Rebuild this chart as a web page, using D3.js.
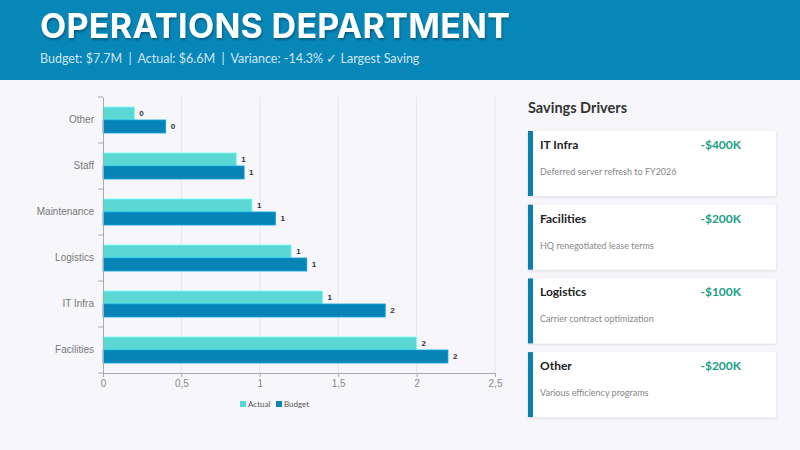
<!DOCTYPE html>
<html>
<head>
<meta charset="utf-8">
<script src="https://cdn.jsdelivr.net/npm/d3@7"></script>
<style>
	html, body { margin: 0; padding: 0; background: #f7f7fb; }
	svg { display: block; }
</style>
</head>
<body>
<svg id="chart" width="800" height="450"></svg>
<script>
// chart values
const categories = ["Facilities", "IT Infra", "Logistics", "Maintenance", "Staff", "Other"];
const actualValues = [2.0, 1.4, 1.2, 0.95, 0.85, 0.2];
const budgetValues = [2.2, 1.8, 1.3, 1.1, 0.9, 0.4];
const seriesNames = ["Actual", "Budget"];
const xTicks = [0, 0.5, 1, 1.5, 2, 2.5];

// savings drivers panel
const driverNames = ["IT Infra", "Facilities", "Logistics", "Other"];
const driverAmounts = ["-$400K", "-$200K", "-$100K", "-$200K"];
const driverNotes = ["Deferred server refresh to FY2026", "HQ renegotiated lease terms",
	"Carrier contract optimization", "Various efficiency programs"];

const title = "OPERATIONS DEPARTMENT";
const subtitle = "Budget: $7.7M  |  Actual: $6.6M  |  Variance: -14.3% \u2713 Largest Saving";

var colors = { Actual: "#5bd8d3", Budget: "#0784b5" };
var svg = d3.select("#chart");
var W = +svg.attr("width");

svg.append("rect").attr("width", W).attr("height", 450).attr("fill", "#f7f7fb");

// --------------------------------------------
// shadows
// --------------------------------------------
var defs = svg.append("defs");
var ts = defs.append("filter").attr("id", "tshadow")
	.attr("x", "-5%").attr("y", "-20%").attr("width", "110%").attr("height", "150%");
ts.append("feDropShadow").attr("dx", 1).attr("dy", 2).attr("stdDeviation", 1)
	.attr("flood-color", "#000").attr("flood-opacity", 0.3);
var cs = defs.append("filter").attr("id", "cshadow")
	.attr("x", "-5%").attr("y", "-10%").attr("width", "110%").attr("height", "130%");
cs.append("feDropShadow").attr("dx", 0).attr("dy", 1).attr("stdDeviation", 1.5)
	.attr("flood-color", "#000").attr("flood-opacity", 0.12);

// --------------------------------------------
// header
// --------------------------------------------
svg.append("rect").attr("width", W).attr("height", 80).attr("fill", "#0786b8");
svg.append("text")
	.attr("x", 40).attr("y", 38)
	.attr("fill", "#fff")
	.attr("filter", "url(#tshadow)")
	.style("font-family", "Inter, 'Open Sans', sans-serif")
	.style("font-weight", 700)
	.style("font-size", "34px")
	.style("letter-spacing", "0.3px")
	.text(title);
svg.append("text")
	.attr("x", 40).attr("y", 63)
	.attr("fill", "#cfe7f4")
	.attr("xml:space", "preserve")
	.style("white-space", "pre")
	.style("font-family", "Lato, sans-serif")
	.style("font-size", "12.5px")
	.text(subtitle);

// --------------------------------------------
// bar chart
// --------------------------------------------
var x = d3.scaleLinear().domain([0, 2.5]).range([103, 495]);
var y = d3.scaleBand().domain(categories.slice().reverse()).range([97, 373]);
var ySub = d3.scaleBand().domain(seriesNames).range([0, y.bandwidth()]).paddingOuter(0.77);

var plot = svg.append("g");

// vertical grid
plot.append("g").selectAll("line")
	.data(xTicks.slice(1))
	.join("line")
	.attr("x1", d => x(d)).attr("x2", d => x(d))
	.attr("y1", y.range()[0]).attr("y2", y.range()[1])
	.attr("stroke", "#e4e4ea").attr("stroke-width", 1);

var rows = categories.map((c, i) => ({ cat: c, Actual: actualValues[i], Budget: budgetValues[i] }));

var groups = plot.append("g").selectAll("g")
	.data(rows)
	.join("g")
	.attr("transform", d => "translate(0," + y(d.cat) + ")");

groups.selectAll("rect")
	.data(d => seriesNames.map(s => ({ key: s, value: d[s] })))
	.join("rect")
	.attr("x", x(0))
	.attr("y", d => ySub(d.key))
	.attr("width", d => x(d.value) - x(0))
	.attr("height", ySub.bandwidth())
	.attr("fill", d => colors[d.key])
	.attr("stroke", d => d3.color(colors[d.key]).brighter(0.6))
	.attr("stroke-width", 0.8);

groups.selectAll("text")
	.data(d => seriesNames.map(s => ({ key: s, value: d[s] })))
	.join("text")
	.attr("x", d => x(d.value) + 5)
	.attr("y", d => ySub(d.key) + ySub.bandwidth() / 2)
	.attr("dy", "0.35em")
	.attr("fill", "#333")
	.style("font-family", "'Liberation Sans', Arial, sans-serif")
	.style("font-size", "8px")
	.style("font-weight", 700)
	.text(d => Math.round(d.value));

// x axis
var xAxis = plot.append("g")
	.attr("transform", "translate(0," + y.range()[1] + ")")
	.call(d3.axisBottom(x).tickValues(xTicks).tickSize(4).tickFormat(d => String(d).replace(".", ",")));
xAxis.select(".domain").attr("stroke", "#aaa");
xAxis.selectAll(".tick line").attr("stroke", "#aaa");
xAxis.selectAll(".tick text")
	.attr("fill", "#888")
	.attr("y", 7)
	.style("font-family", "'Liberation Sans', Arial, sans-serif")
	.style("font-size", "10px");

// y axis: labels at band centres, ticks at band edges
var yAxis = plot.append("g")
	.attr("transform", "translate(" + x(0) + ",0)")
	.call(d3.axisLeft(y).tickSize(0).tickPadding(9));
yAxis.select(".domain").attr("stroke", "#aaa");
yAxis.selectAll(".tick text")
	.attr("fill", "#777")
	.style("font-family", "'Liberation Sans', Arial, sans-serif")
	.style("font-size", "10px");
yAxis.append("g").selectAll("line")
	.data(y.domain().map(c => y(c)).concat([y.range()[1]]))
	.join("line")
	.attr("x1", -5).attr("x2", 0)
	.attr("y1", d => d).attr("y2", d => d)
	.attr("stroke", "#aaa");

// legend
var legend = svg.append("g").attr("transform", "translate(240,401)");
var legendX = d3.scaleOrdinal().domain(seriesNames).range([0, 36]);
var li = legend.selectAll("g")
	.data(seriesNames)
	.join("g")
	.attr("transform", d => "translate(" + legendX(d) + ",0)");
li.append("rect").attr("width", 6).attr("height", 6).attr("fill", d => colors[d]);
li.append("text")
	.attr("x", 8).attr("y", 6)
	.attr("fill", "#555")
	.style("font-family", "Lato, sans-serif")
	.style("font-size", "8px")
	.text(d => d);

// --------------------------------------------
// savings drivers
// --------------------------------------------
svg.append("text")
	.attr("x", 528).attr("y", 113)
	.attr("fill", "#333")
	.style("font-family", "Lato, sans-serif")
	.style("font-weight", 700)
	.style("font-size", "14.5px")
	.text("Savings Drivers");

var cardY = d3.scaleBand().domain(driverNames).range([131, 417.1]).paddingInner(0.118).paddingOuter(0);

var cards = svg.append("g").selectAll("g")
	.data(driverNames.map((n, i) => ({ name: n, amount: driverAmounts[i], note: driverNotes[i] })))
	.join("g")
	.attr("transform", d => "translate(528," + cardY(d.name) + ")");

cards.append("rect")
	.attr("width", 248).attr("height", cardY.bandwidth())
	.attr("fill", "#fff")
	.attr("filter", "url(#cshadow)");
cards.append("rect")
	.attr("width", 5).attr("height", cardY.bandwidth())
	.attr("fill", "#0a7fb0");
cards.append("text")
	.attr("x", 12).attr("y", 18)
	.attr("fill", "#222")
	.style("font-family", "Lato, sans-serif")
	.style("font-weight", 700)
	.style("font-size", "12px")
	.text(d => d.name);
cards.append("text")
	.attr("x", 213).attr("y", 18)
	.attr("text-anchor", "end")
	.attr("fill", "#1a9e84")
	.style("font-family", "Lato, sans-serif")
	.style("font-weight", 700)
	.style("font-size", "12px")
	.text(d => d.amount);
cards.append("text")
	.attr("x", 12).attr("y", 44)
	.attr("fill", "#888")
	.style("font-family", "Lato, sans-serif")
	.style("font-size", "9px")
	.text(d => d.note);
</script>
</body>
</html>
